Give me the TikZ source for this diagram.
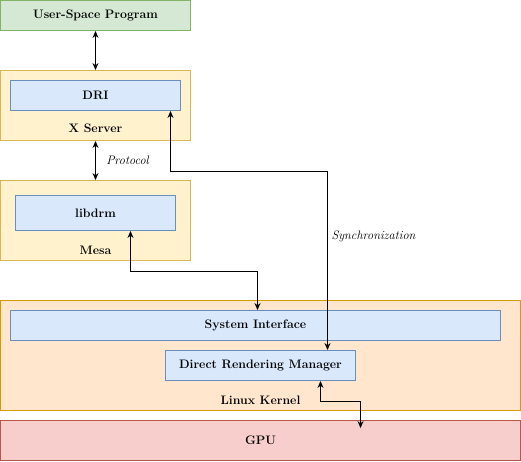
\documentclass[tikz,border=0pt]{standalone}
\usepackage{xcolor}
\usepackage{tikz}
\usetikzlibrary{arrows.meta, positioning, calc}
\definecolor{userfill}{HTML}{D5E8D4}
\definecolor{userline}{HTML}{82B366}
\definecolor{layerfill}{HTML}{FFF2CC}
\definecolor{layerline}{HTML}{D6B656}
\definecolor{partfill}{HTML}{DAE8FC}
\definecolor{partline}{HTML}{6C8EBF}
\definecolor{kernelfill}{HTML}{FFE6CC}
\definecolor{kernelline}{HTML}{D79B00}
\definecolor{gpufill}{HTML}{F8CECC}
\definecolor{gpuline}{HTML}{B85450}
\tikzstyle{userbox} = [rectangle, minimum width=190pt, minimum height=30pt, text centered, draw=userline, fill=userfill, font=\fontsize{12.3}{14}\selectfont\bfseries]
\tikzstyle{layer} = [rectangle, draw=layerline, fill=layerfill]
\tikzstyle{part} = [rectangle, minimum height=30pt, text centered, draw=partline, fill=partfill, font=\fontsize{12.3}{14}\selectfont\bfseries]
\tikzstyle{kernel} = [rectangle, draw=kernelline, fill=kernelfill]
\tikzstyle{gpubox} = [rectangle, minimum width=520pt, minimum height=40pt, draw=gpuline, fill=gpufill, font=\fontsize{12.3}{14}\selectfont\bfseries]
\tikzstyle{caption} = [font=\fontsize{12.3}{14}\selectfont\bfseries]
\tikzstyle{note} = [font=\fontsize{12.3}{14}\selectfont\itshape]
\tikzstyle{biarrow} = [line width=0.9pt, {Stealth[length=7pt,width=6pt]}-{Stealth[length=7pt,width=6pt]}]

\begin{document}
\begin{tikzpicture}[x=1pt, y=-1pt, line width=0.9pt]
    \useasboundingbox (-0.5,-0.5) rectangle (520.5,460.5);
    % User space
    \node[userbox] (user) at (95, 15) {User-Space Program};

    % X Server
    \node[layer, minimum width=190pt, minimum height=70pt] (xserver) at (95, 105) {};
    \node[part, minimum width=170pt] (dri) at (95, 95) {DRI};
    \node[caption] (xlabel) at (95, 128) {X Server};

    % Mesa
    \node[layer, minimum width=190pt, minimum height=80pt] (mesa) at (95, 220) {};
    \node[part, minimum width=160pt, minimum height=35pt] (libdrm) at (95, 212.5) {libdrm};
    \node[caption] (mesalabel) at (95, 250) {Mesa};

    % Linux Kernel
    \node[kernel, minimum width=520pt, minimum height=110pt] (kernel) at (260, 355) {};
    \node[part, minimum width=490pt] (sysif) at (255, 325) {System Interface};
    \node[part, minimum width=190pt] (drm) at (260, 365) {Direct Rendering Manager};
    \node[caption] (kernellabel) at (260, 400) {Linux Kernel};

    % GPU
    \node[gpubox] (gpu) at (260, 440) {GPU};

    % Connections
    \draw[biarrow] (user) -- (xserver);
    \draw[biarrow] (xserver) -- (mesa);
    \node[note] (protocol) at (127, 160) {Protocol};
    \draw[biarrow] ([xshift=35pt]libdrm.south) -- ++(0, 40) -| ([xshift=2pt]sysif.north);
    \draw[biarrow] ([xshift=75pt]dri.south) -- ++(0, 60) -| ([xshift=67pt]drm.north);
    \node[note] (sync) at (373, 236) {Synchronization};
    \draw[biarrow, shorten >=-8pt] ([xshift=60pt]drm.south) -- ++(0, 20) -| ([xshift=100pt]gpu.north);
\end{tikzpicture}
\end{document}
